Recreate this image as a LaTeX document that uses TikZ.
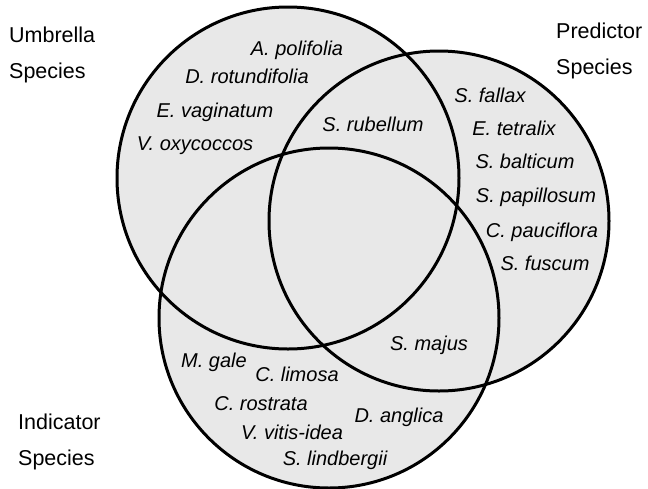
\documentclass[tikz,border=0pt]{standalone}
\usepackage{fontspec}
\setmainfont{Liberation Sans}
\definecolor{setgray}{HTML}{E8E8E8}

\begin{document}
\begin{tikzpicture}[x=1pt, y=-1pt,
    setline/.style={line width=3pt},
    sp/.style={anchor=base, inner sep=0pt, font=\fontsize{20}{20}\selectfont\itshape},
    lab/.style={anchor=base west, inner sep=0pt, align=left, font=\fontsize{21.5}{36}\selectfont}]
    \useasboundingbox (0,0) rectangle (648,488);

    \coordinate (umbrella) at (288,178);
    \coordinate (predictor) at (439,221);
    \coordinate (indicator) at (329,318);

    \fill[setgray] (umbrella) circle (171);
    \fill[setgray] (predictor) circle (170);
    \fill[setgray] (indicator) circle (170);
    \draw[setline] (umbrella) circle (171);
    \draw[setline] (predictor) circle (170);
    \draw[setline] (indicator) circle (170);

    % set names (anchored on the second line)
    \node[lab] (umbrellalab) at (9,78) {Umbrella\\Species};
    \node[lab] (predictorlab) at (556,74) {Predictor\\Species};
    \node[lab] (indicatorlab) at (18,465) {Indicator\\Species};

    % umbrella only
    \node[sp] (apol) at (297,55) {A. polifolia};
    \node[sp] (drot) at (247,83) {D. rotundifolia};
    \node[sp] (evag) at (215,117) {E. vaginatum};
    \node[sp] (voxy) at (195,150) {V. oxycoccos};
    % umbrella and predictor
    \node[sp] (srub) at (373,131) {S. rubellum};
    % predictor only
    \node[sp] (sfal) at (490,102) {S. fallax};
    \node[sp] (etet) at (514,135) {E. tetralix};
    \node[sp] (sbal) at (525,168) {S. balticum};
    \node[sp] (spap) at (536,202) {S. papillosum};
    \node[sp] (cpau) at (542,237) {C. pauciflora};
    \node[sp] (sfus) at (545,270) {S. fuscum};
    % predictor and indicator
    \node[sp] (smaj) at (429,350) {S. majus};
    % indicator only
    \node[sp] (mgal) at (214,367) {M. gale};
    \node[sp] (clim) at (297,381) {C. limosa};
    \node[sp] (cros) at (261,410) {C. rostrata};
    \node[sp] (dang) at (399,422) {D. anglica};
    \node[sp] (vvit) at (292,439) {V. vitis-idea};
    \node[sp] (slin) at (335,465) {S. lindbergii};
\end{tikzpicture}
\end{document}
